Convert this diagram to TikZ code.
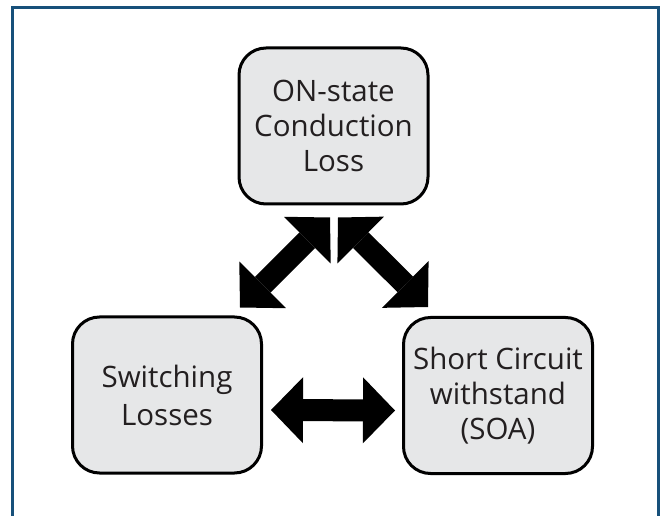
\documentclass[tikz,border=0pt]{standalone}
\usepackage{fontspec}
\setmainfont{Open Sans}
\usetikzlibrary{arrows.meta}
\definecolor{frameblue}{HTML}{17507A}
\definecolor{boxfill}{HTML}{E6E7E8}
\definecolor{inktext}{HTML}{231F20}
\begin{document}
\begin{tikzpicture}[x=1pt,y=-1pt,
  lossbox/.style={draw=black, line width=3pt, fill=boxfill, rounded corners=27pt,
    minimum width=189pt, minimum height=156pt, inner sep=0pt, align=center,
    text=inktext, font=\fontsize{29.5}{35}\selectfont},
  tradeoff/.style={line width=22pt, black,
    {Triangle[length=32pt 0 0, width=66pt 0 0, line width=0pt 0]}-{Triangle[length=32pt 0 0, width=66pt 0 0, line width=0pt 0]}}
]
\useasboundingbox (0,0) rectangle (665,516);
% outer frame, running past the lower edge
\begin{scope}
  \clip (0,0) rectangle (665,516);
  \draw[frameblue, line width=3pt] (12.5,530) -- (12.5,7.5) -- (658.5,7.5) -- (658.5,530);
\end{scope}

\node[lossbox] (cond) at (333.5,126) {ON-state\\Conduction\\Loss};
\node[lossbox, font=\fontsize{29.5}{38}\selectfont] (sw) at (167,395) {Switching\\Losses};
\node[lossbox] (sc)   at (498,395.5) {Short Circuit\\withstand\\(SOA)};

% double-headed trade-off arrows
\draw[tradeoff] ([shift={(73,-8)}]sw.north) -- ([shift={(-3.5,12)}]cond.south);
\draw[tradeoff] ([shift={(4.5,12)}]cond.south) -- ([shift={(-70,-9)}]sc.north);
\draw[tradeoff] ([shift={(8,15)}]sw.east) -- ([shift={(-7,15)}]sc.west);
\end{tikzpicture}
\end{document}
